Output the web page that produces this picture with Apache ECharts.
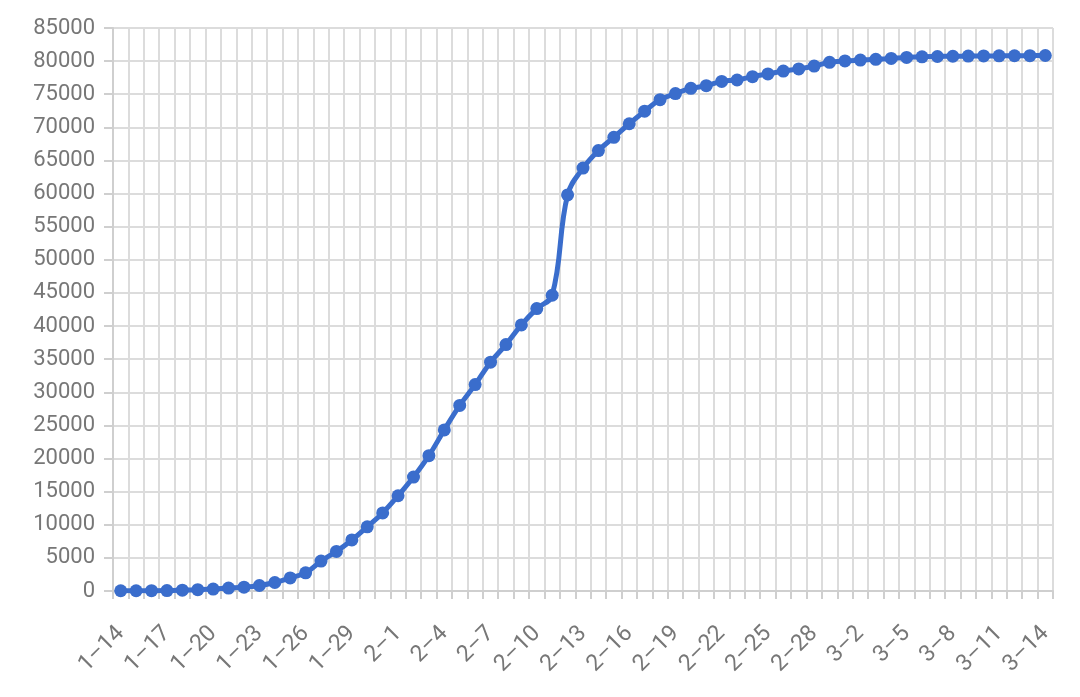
<!DOCTYPE html>
<html>
<head>
<meta charset="utf-8">
<script src="https://cdn.jsdelivr.net/npm/echarts@6/dist/echarts.min.js"></script>
<style>
html,body{margin:0;padding:0;background:#fff;}
#chart{width:1080px;height:697px;}
</style>
</head>
<body>
<div id="chart"></div>
<script>
const categories = [
  '1–14','1–15','1–16','1–17','1–18','1–19','1–20','1–21','1–22','1–23','1–24','1–25','1–26','1–27','1–28','1–29','1–30','1–31',
  '2–1','2–2','2–3','2–4','2–5','2–6','2–7','2–8','2–9','2–10','2–11','2–12','2–13','2–14','2–15','2–16','2–17','2–18','2–19','2–20',
  '2–21','2–22','2–23','2–24','2–25','2–26','2–27','2–28','2–29',
  '3–1','3–2','3–3','3–4','3–5','3–6','3–7','3–8','3–9','3–10','3–11','3–12','3–13','3–14'
];
const confirmed = [
  41, 41, 45, 62, 121, 198, 291, 440, 571, 830, 1287, 1975, 2744, 4515, 5974, 7711, 9692, 11791,
  14380, 17205, 20438, 24324, 28018, 31161, 34546, 37198, 40171, 42638, 44653, 59804, 63851, 66492, 68500, 70548, 72436, 74185, 75101, 75891,
  76288, 76936, 77150, 77658, 78064, 78497, 78824, 79251, 79824,
  80026, 80151, 80270, 80409, 80552, 80651, 80695, 80735, 80754, 80778, 80793, 80813, 80824, 80844
];
const yMin = 0, yMax = 85000, yStep = 5000;

const chart = echarts.init(document.getElementById('chart'), null, {renderer: 'canvas'});
const gridColor = '#dcdcdc';
const axisColor = '#cfcfcf';
const fontFamily = 'Roboto, "Liberation Sans", sans-serif';
chart.setOption({
  animation: false,
  backgroundColor: '#fff',
  grid: {left: 113, right: 27, top: 28, bottom: 106, containLabel: false},
  xAxis: {
    type: 'category',
    data: categories,
    boundaryGap: true,
    axisLine: {show: true, lineStyle: {color: axisColor, width: 2}},
    axisTick: {show: true, interval: 0, length: 8, lineStyle: {color: axisColor, width: 2}},
    splitLine: {show: true, interval: 0, lineStyle: {color: gridColor, width: 2}},
    axisLabel: {interval: 2, rotate: 45, margin: 39, color: '#777', fontSize: 23, fontFamily: fontFamily}
  },
  yAxis: {
    type: 'value',
    min: yMin, max: yMax, interval: yStep,
    axisLine: {show: true, lineStyle: {color: axisColor, width: 2}},
    axisTick: {show: true, length: 9, lineStyle: {color: axisColor, width: 2}},
    splitLine: {show: true, lineStyle: {color: gridColor, width: 2}},
    axisLabel: {margin: 18, formatter: v => String(v), color: '#777', fontSize: 22, fontFamily: fontFamily}
  },
  series: [{
    type: 'line',
    data: confirmed,
    smooth: 0.4,
    symbol: 'circle',
    symbolSize: 13,
    showSymbol: true,
    showAllSymbol: true,
    lineStyle: {color: '#3a6dcc', width: 5},
    itemStyle: {color: '#3a6dcc'}
  }]
});
</script>
</body>
</html>
